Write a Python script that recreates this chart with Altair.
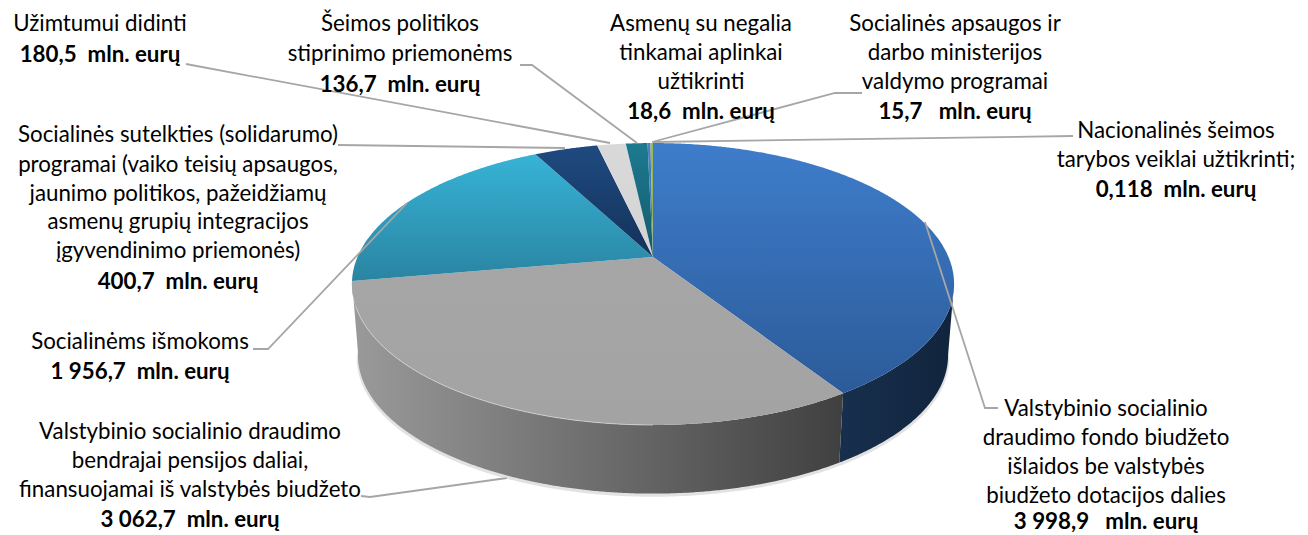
import math
import altair as alt

# ---- data (mln. eurų), clockwise from 12 o'clock
names = ["fondas", "pensijos", "ismokos", "sutelktis", "uzimtumas", "seima", "negalia", "ministerija", "taryba"]
values = [3998.9, 3062.7, 1956.7, 400.7, 180.5, 136.7, 18.6, 15.7, 0.118]
top_from = ["#3e7dcb", "#a6a6a6", "#37b3d6", "#1f4a80", "#d9d9d9", "#1c7a90", "#4f81bd", "#9bbb59", "#8064a2"]
top_to = ["#2c5b99", "#a3a3a3", "#2a84a2", "#14325a", "#d4d4d4", "#155a6c", "#3a6ea5", "#8aa84e", "#8064a2"]

NB = "\u00a0"
labels = [
    (100, ["Užimtumui didinti"], f"180,5{NB} mln. eurų", [24], 55),
    (400, ["Šeimos politikos", "stiprinimo priemonėms"], f"136,7{NB} mln. eurų", [24, 54], 85),
    (701, ["Asmenų su negalia", "tinkamai aplinkai", "užtikrinti"], f"18,6{NB} mln. eurų", [24, 53, 82], 112),
    (955, ["Socialinės apsaugos ir", "darbo ministerijos", "valdymo programai"], f"15,7{NB}{NB} mln. eurų", [24, 53, 82], 112),
    (1176, ["Nacionalinės šeimos", "tarybos veiklai užtikrinti;"], f"0,118{NB} mln. eurų", [131, 160], 190),
    (178, ["Socialinės sutelkties (solidarumo)", "programai (vaiko teisių apsaugos,", "jaunimo politikos, pažeidžiamų",
           "asmenų grupių integracijos", "įgyvendinimo priemonės)"], f"400,7{NB} mln. eurų", [135, 165, 194, 222, 251], 282),
    (140, ["Socialinėms išmokoms"], f"1 956,7{NB} mln. eurų", [342], 372),
    (190, ["Valstybinio socialinio draudimo", "bendrajai pensijos daliai,", "finansuojamai iš valstybės biudžeto"],
     f"3 062,7{NB} mln. eurų", [432, 461, 490], 520),
    (1106, ["Valstybinio socialinio", "draudimo fondo biudžeto", "išlaidos be valstybės", "biudžeto dotacijos dalies"],
     f"3 998,9{NB}{NB} mln. eurų", [409, 438, 467, 496], 522),
]

leaders_under = [
    [(361, 496), (370, 497), (507, 478)],
]
leaders_over = [
    [(186, 64), (610, 143)],
    [(520, 65), (532, 65), (637, 143)],
    [(652, 142), (835, 93), (862, 93)],
    [(1073, 136), (653, 142)],
    [(338, 145), (565, 148)],
    [(253, 349), (268, 349), (407, 203)],
    [(998, 408), (985, 408), (925, 222)],
]

# ---- geometry of the tilted (perspective) disc, in page pixels
OFF = 8
CX, CY = 653, 257
R, K, C = 295.5, 135.8, -0.1915
LOW_S, LOW_CY = 0.98, 329


def pt(deg, scale=1.0, cy=CY):
    a = math.radians(deg)
    u, v = math.sin(a), -math.cos(a)
    d = 1 + C * v
    return [CX + scale * R * u / d - OFF, cy + scale * K * v / d - OFF]


def arc(a0, a1, scale=1.0, cy=CY):
    n = max(2, int(abs(a1 - a0) * 3))
    return [pt(a0 + (a1 - a0) * i / n, scale, cy) for i in range(n + 1)]


def poly(ring):
    ring = ring + [ring[0]]
    return {"type": "Feature", "properties": {}, "geometry": {"type": "Polygon", "coordinates": [ring]}}


def line(coords):
    return {"type": "Feature", "properties": {}, "geometry": {"type": "LineString", "coordinates": coords}}


def grad(c0, c1, horizontal=False):
    return alt.Gradient(
        gradient="linear",
        x1=0, y1=0,
        x2=1 if horizontal else 0,
        y2=0 if horizontal else 1,
        stops=[alt.GradientStop(color=c0, offset=0), alt.GradientStop(color=c1, offset=1)],
    )


PROJ = dict(type="identity", scale=1, translate=[0, 0])


def shape(feature, **mark):
    return alt.Chart(alt.Data(values=[feature])).mark_geoshape(**mark).project(**PROJ)


total = sum(values)
angles = [0]
for v in values:
    angles.append(angles[-1] + v / total * 360)

layers = []

# leader that runs under the disc
rows = [{"g": i, "o": j, "x": p[0] - OFF, "y": p[1] - OFF}
        for i, l in enumerate(leaders_under) for j, p in enumerate(l)]
under = alt.Chart(alt.Data(values=rows)).mark_line(color="#a6a6a6", strokeWidth=1.8).encode(
    x=alt.X("x:Q", scale=None), y=alt.Y("y:Q", scale=None), detail="g:N", order="o:Q")
layers.append(under)

# soft shadow below the wall
shadow_ring = arc(101, 259, LOW_S * 1.004, LOW_CY + 2.5) + arc(259, 101, LOW_S, LOW_CY - 6)
layers.append(shape(poly(shadow_ring), fill="#cfcfcf", opacity=0.6))

# side walls
wall_blue = arc(101, angles[1]) + arc(angles[1], 101, LOW_S, LOW_CY)
wall_grey = arc(angles[1], angles[2]) + arc(angles[2], angles[1], LOW_S, LOW_CY)
layers.append(shape(poly(wall_blue), fill=grad("#172f4e", "#11243c", True)))
layers.append(shape(poly(wall_grey), fill=grad("#9a9a9a", "#404040", True)))

# top face
apex = [CX - OFF, CY - OFF]
for i in range(len(values)):
    ring = [apex] + arc(angles[i], angles[i + 1])
    layers.append(shape(poly(ring), fill=grad(top_from[i], top_to[i])))

# bevel highlight at the front edge of the top face
layers.append(shape(line(arc(180, 250)), filled=False, stroke="#d8d8d8", strokeWidth=1, opacity=0.8))

# other leaders
rows = [{"g": i, "o": j, "x": p[0] - OFF, "y": p[1] - OFF}
        for i, l in enumerate(leaders_over) for j, p in enumerate(l)]
over = alt.Chart(alt.Data(values=rows)).mark_line(color="#a6a6a6", strokeWidth=1.8).encode(
    x=alt.X("x:Q", scale=None), y=alt.Y("y:Q", scale=None), detail="g:N", order="o:Q")
layers.append(over)

# texts
plain, bold = [], []
for cx, lines, val, ys, vy in labels:
    for t, y in zip(lines, ys):
        plain.append({"t": t, "x": cx - OFF, "y": y - OFF})
    bold.append({"t": val, "x": cx - OFF, "y": vy - OFF})

FONT = dict(font="Lato", fontSize=22.3, align="center", baseline="middle", color="#000000")
layers.append(alt.Chart(alt.Data(values=plain)).mark_text(**FONT).encode(
    x=alt.X("x:Q", scale=None), y=alt.Y("y:Q", scale=None), text="t:N"))
layers.append(alt.Chart(alt.Data(values=bold)).mark_text(fontWeight="bold", **FONT).encode(
    x=alt.X("x:Q", scale=None), y=alt.Y("y:Q", scale=None), text="t:N"))

chart = alt.layer(*layers).properties(
    width=1292, height=527, padding=0, autosize=alt.AutoSizeParams(type="none"), background="white"
).resolve_scale(x="independent", y="independent").configure_view(stroke=None).configure_axis(disable=True)

chart.save("out.html", embed_options={"renderer": "svg", "actions": False})
